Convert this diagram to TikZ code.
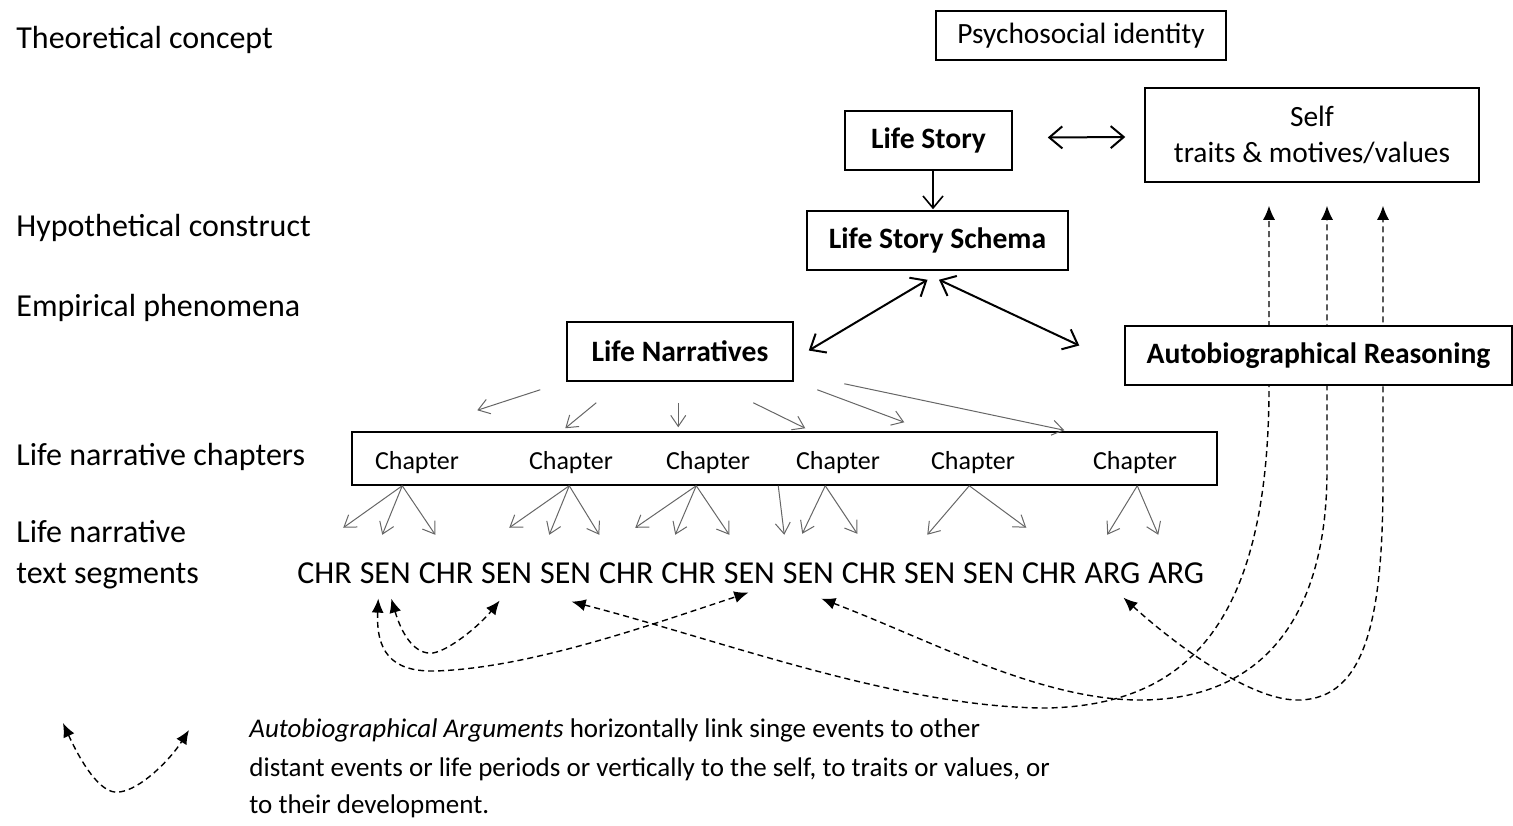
\documentclass[tikz,border=0pt]{standalone}
\usepackage{fontspec}
\setmainfont{Carlito}
\usetikzlibrary{arrows.meta,calc,backgrounds}
\begin{document}
\begin{tikzpicture}[x=0.5pt,y=-0.5pt,
  box/.style={draw,line width=0.75pt,fill=white,inner sep=0pt,align=center},
  bfont/.style={font=\fontsize{14.8}{18}\selectfont\bfseries},
  nfont/.style={font=\fontsize{14.7}{18}\selectfont},
  rowlabel/.style={anchor=base west,inner sep=0pt,font=\fontsize{16}{19}\selectfont},
  seg/.style={anchor=base west,inner sep=0pt,font=\fontsize{16}{19}\selectfont},
  chaptxt/.style={anchor=base,inner sep=0pt,font=\fontsize{13}{15}\selectfont},
  legtxt/.style={anchor=base west,inner sep=0pt,font=\fontsize{13.5}{15}\selectfont},
  barrow/.style={line width=1pt,{Straight Barb[length=6.5pt,width=11pt]}-{Straight Barb[length=6.5pt,width=11pt]}},
  sarrow/.style={line width=0.8pt,-{Straight Barb[length=6pt,width=10pt]}},
  garrow/.style={line width=0.5pt,draw=black!60,-{Straight Barb[length=5.5pt,width=7.5pt]}},
  darrow/.style={line width=0.7pt,dash pattern=on 3pt off 2pt,{Latex[length=7pt,width=6pt]}-{Latex[length=7pt,width=6pt]}}
]
\useasboundingbox (0,0) rectangle (1513,825);

% row labels
\node[rowlabel] (tc) at (16,48) {Theoretical concept};
\node[rowlabel] (hc) at (16,236) {Hypothetical construct};
\node[rowlabel] (ep) at (16,316) {Empirical phenomena};
\node[rowlabel] (lnc) at (16,465) {Life narrative chapters};
\node[rowlabel] (lnta) at (16,542) {Life narrative};
\node[rowlabel] (lntb) at (16,583) {text segments};

% boxes
\node[box,nfont,minimum width=145pt,minimum height=24.5pt,text depth=2pt] (psy) at (1081,35.5) {Psychosocial identity};
\node[box,bfont,minimum width=83.5pt,minimum height=29.5pt] (ls) at (928.5,140.5) {Life Story};
\node[box,nfont,minimum width=167pt,minimum height=47pt] (self) at (1312,135) {Self\\traits \& motives/values};
\node[box,bfont,minimum width=130.5pt,minimum height=29.5pt] (lss) at (937.5,240.5) {Life Story Schema};
\node[box,bfont,minimum width=113pt,minimum height=29.5pt] (ln) at (680,351.5) {Life Narratives};
\node[box,bfont,minimum width=193.5pt,minimum height=29.5pt] (ar) at (1318.5,355.5) {Autobiographical Reasoning};
\node[box,minimum width=432.5pt,minimum height=26.5pt] (chap) at (784.5,458.5) {};

% chapter labels
\node[chaptxt] (c1) at (417,469) {Chapter};
\node[chaptxt] (c2) at (571,469) {Chapter};
\node[chaptxt] (c3) at (708,469) {Chapter};
\node[chaptxt] (c4) at (838,469) {Chapter};
\node[chaptxt] (c5) at (973,469) {Chapter};
\node[chaptxt] (c6) at (1135,469) {Chapter};

% text segments
\node[seg] (w1) at (297,583) {CHR};
\node[seg] (w2) at ($(w1.base east)+(7.2,0)$) {SEN};
\node[seg] (w3) at ($(w2.base east)+(7.2,0)$) {CHR};
\node[seg] (w4) at ($(w3.base east)+(7.2,0)$) {SEN};
\node[seg] (w5) at ($(w4.base east)+(7.2,0)$) {SEN};
\node[seg] (w6) at ($(w5.base east)+(7.2,0)$) {CHR};
\node[seg] (w7) at ($(w6.base east)+(7.2,0)$) {CHR};
\node[seg] (w8) at ($(w7.base east)+(7.2,0)$) {SEN};
\node[seg] (w9) at ($(w8.base east)+(7.2,0)$) {SEN};
\node[seg] (w10) at ($(w9.base east)+(7.2,0)$) {CHR};
\node[seg] (w11) at ($(w10.base east)+(7.2,0)$) {SEN};
\node[seg] (w12) at ($(w11.base east)+(7.2,0)$) {SEN};
\node[seg] (w13) at ($(w12.base east)+(7.2,0)$) {CHR};
\node[seg] (w14) at ($(w13.base east)+(7.2,0)$) {ARG};
\node[seg] (w15) at ($(w14.base east)+(7.2,0)$) {ARG};

% black arrows
\draw[barrow] ($(ls.east)+(35,-3)$) -- ($(self.west)+(-19,2)$);
\draw[sarrow] ($(ls.south)+(4.5,0)$) -- ($(lss.north)+(-4.5,-1)$);
\draw[barrow] ($(lss.south)+(-10,9)$) -- ($(ln.east)+(15,-1)$);
\draw[barrow] ($(lss.south)+(1.5,9)$) -- ($(ar.west)+(-45,-10)$);

% gray arrows from life narratives to chapters
\foreach \sx/\sy/\ex/\ey in {-26/8/126/-21, 30/21/214/-3, 112/21/327/-4, 187/21/454/-3, 251/8/553/-9, 278/2/713/-1}
  \draw[garrow] ($(ln.south west)+(\sx,\sy)$) -- ($(chap.north west)+(\ex,\ey)$);

% gray arrows from chapters to segments
\foreach \a/\tx/\ty in {51/-8/42, 51/31/49, 51/84/49, 218/158/42, 218/198/49, 218/248/49, 345/284/42, 345/324/49, 345/378/49, 427/433/49, 474/451/48, 474/506/48, 618/576/49, 618/675/42, 786/756/49, 786/807/49}
  \draw[garrow] ($(chap.south west)+(\a,0)$) -- ($(chap.south west)+(\tx,\ty)$);

% arrow end coordinates
\coordinate (cAL) at ($(w2.south)+(6,15)$);
\coordinate (cAR) at ($(w4.south)+(-7,17)$);
\coordinate (cBL) at ($(w2.south)+(-7,15)$);
\coordinate (cBR) at ($(w8.south)+(-1,9)$);
\coordinate (cC) at ($(w5.south)+(6,18)$);
\coordinate (cD) at ($(w9.south)+(13,15)$);
\coordinate (cE) at ($(w14.south)+(11,14)$);
\coordinate (u1) at ($(self.south)+(-43,23)$);
\coordinate (u2) at ($(self.south)+(15,23)$);
\coordinate (u3) at ($(self.south)+(71,23)$);
\coordinate (lg1) at (63,723);
\coordinate (lg2) at (189,730);

% dashed arguments
\begin{scope}[on background layer]
\draw[darrow] (cAL) .. controls (402,635) and (415,655) .. (433,653) .. controls (450,650) and (480,625) .. (cAR);
\draw[darrow] (cBL) .. controls (376,650) and (390,672) .. (435,671) .. controls (530,668) and (650,625) .. (cBR);
\draw[darrow] (cC) .. controls (720,640) and (900,708) .. (1047,708) .. controls (1190,705) and (1269,620) .. (u1 |- ar.south) -- (u1);
\draw[darrow] (cD) .. controls (930,640) and (1040,700) .. (1140,700) .. controls (1260,700) and (1327,620) .. (1327,470) -- (u2);
\draw[darrow] (cE) .. controls (1170,640) and (1250,702) .. (1300,700) .. controls (1365,698) and (1383,620) .. (1383,480) -- (u3);
\end{scope}

% legend
\draw[darrow] (lg1) .. controls (80,760) and (100,795) .. (119,792) .. controls (140,790) and (170,760) .. (lg2);
\node[legtxt] (lgA) at (249,737) {\textit{Autobiographical Arguments} horizontally link singe events to other};
\node[legtxt] (lgB) at (249,776) {distant events or life periods or vertically to the self, to traits or values, or};
\node[legtxt] (lgC) at (249,813) {to their development.};
\end{tikzpicture}
\end{document}
